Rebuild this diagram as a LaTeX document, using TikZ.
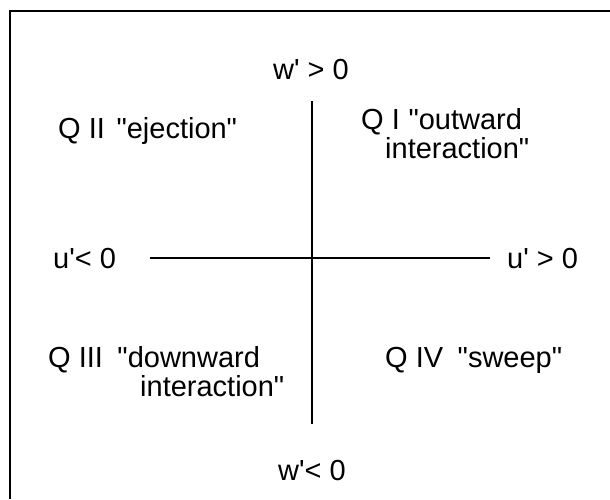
\documentclass[tikz,border=0pt]{standalone}
\usepackage{fontspec}
\newfontfamily\arialfont{Liberation Sans}
\usetikzlibrary{positioning}

\begin{document}
\begin{tikzpicture}[x=1pt, y=-1pt,
  lbl/.style={font=\arialfont\fontsize{29}{34}\selectfont, inner sep=0pt, anchor=base west},
  axis/.style={line width=1.6pt}]
\useasboundingbox (0,0) rectangle (610,499);
% frame, open at right and bottom
\draw[line width=2pt] (10,499) -- (10,11) -- (610,11);
% axis ends
\coordinate (wtop) at (312,101);
\coordinate (wbot) at (312,424);
\coordinate (uleft) at (150,258);
\coordinate (uright) at (490,258);
% axis labels
\node[lbl, anchor=base] (wpos) at (311,79) {w' > 0};
\node[lbl, anchor=base] (wneg) at (312,480) {w'< 0};
\node[lbl] (uneg) at (53,268) {u'< 0};
\node[lbl] (upos) at (507,268) {u' > 0};
% quadrants
\node[lbl] (q2) at (58,138) {Q II\hspace{0.4em}"ejection"};
\node[lbl] (q1a) at (361,129) {Q I\hspace{0.3em}"outward};
\node[lbl] (q1b) at (385,158) {interaction"};
\node[lbl] (q3a) at (48,367) {Q III\hspace{0.5em}"downward};
\node[lbl] (q3b) at (140,396) {interaction"};
\node[lbl] (q4) at (385,367) {Q IV\hspace{0.5em}"sweep"};
% axes
\draw[axis] (wtop) -- (wbot);
\draw[axis] (uleft) -- (uright);
\end{tikzpicture}
\end{document}
